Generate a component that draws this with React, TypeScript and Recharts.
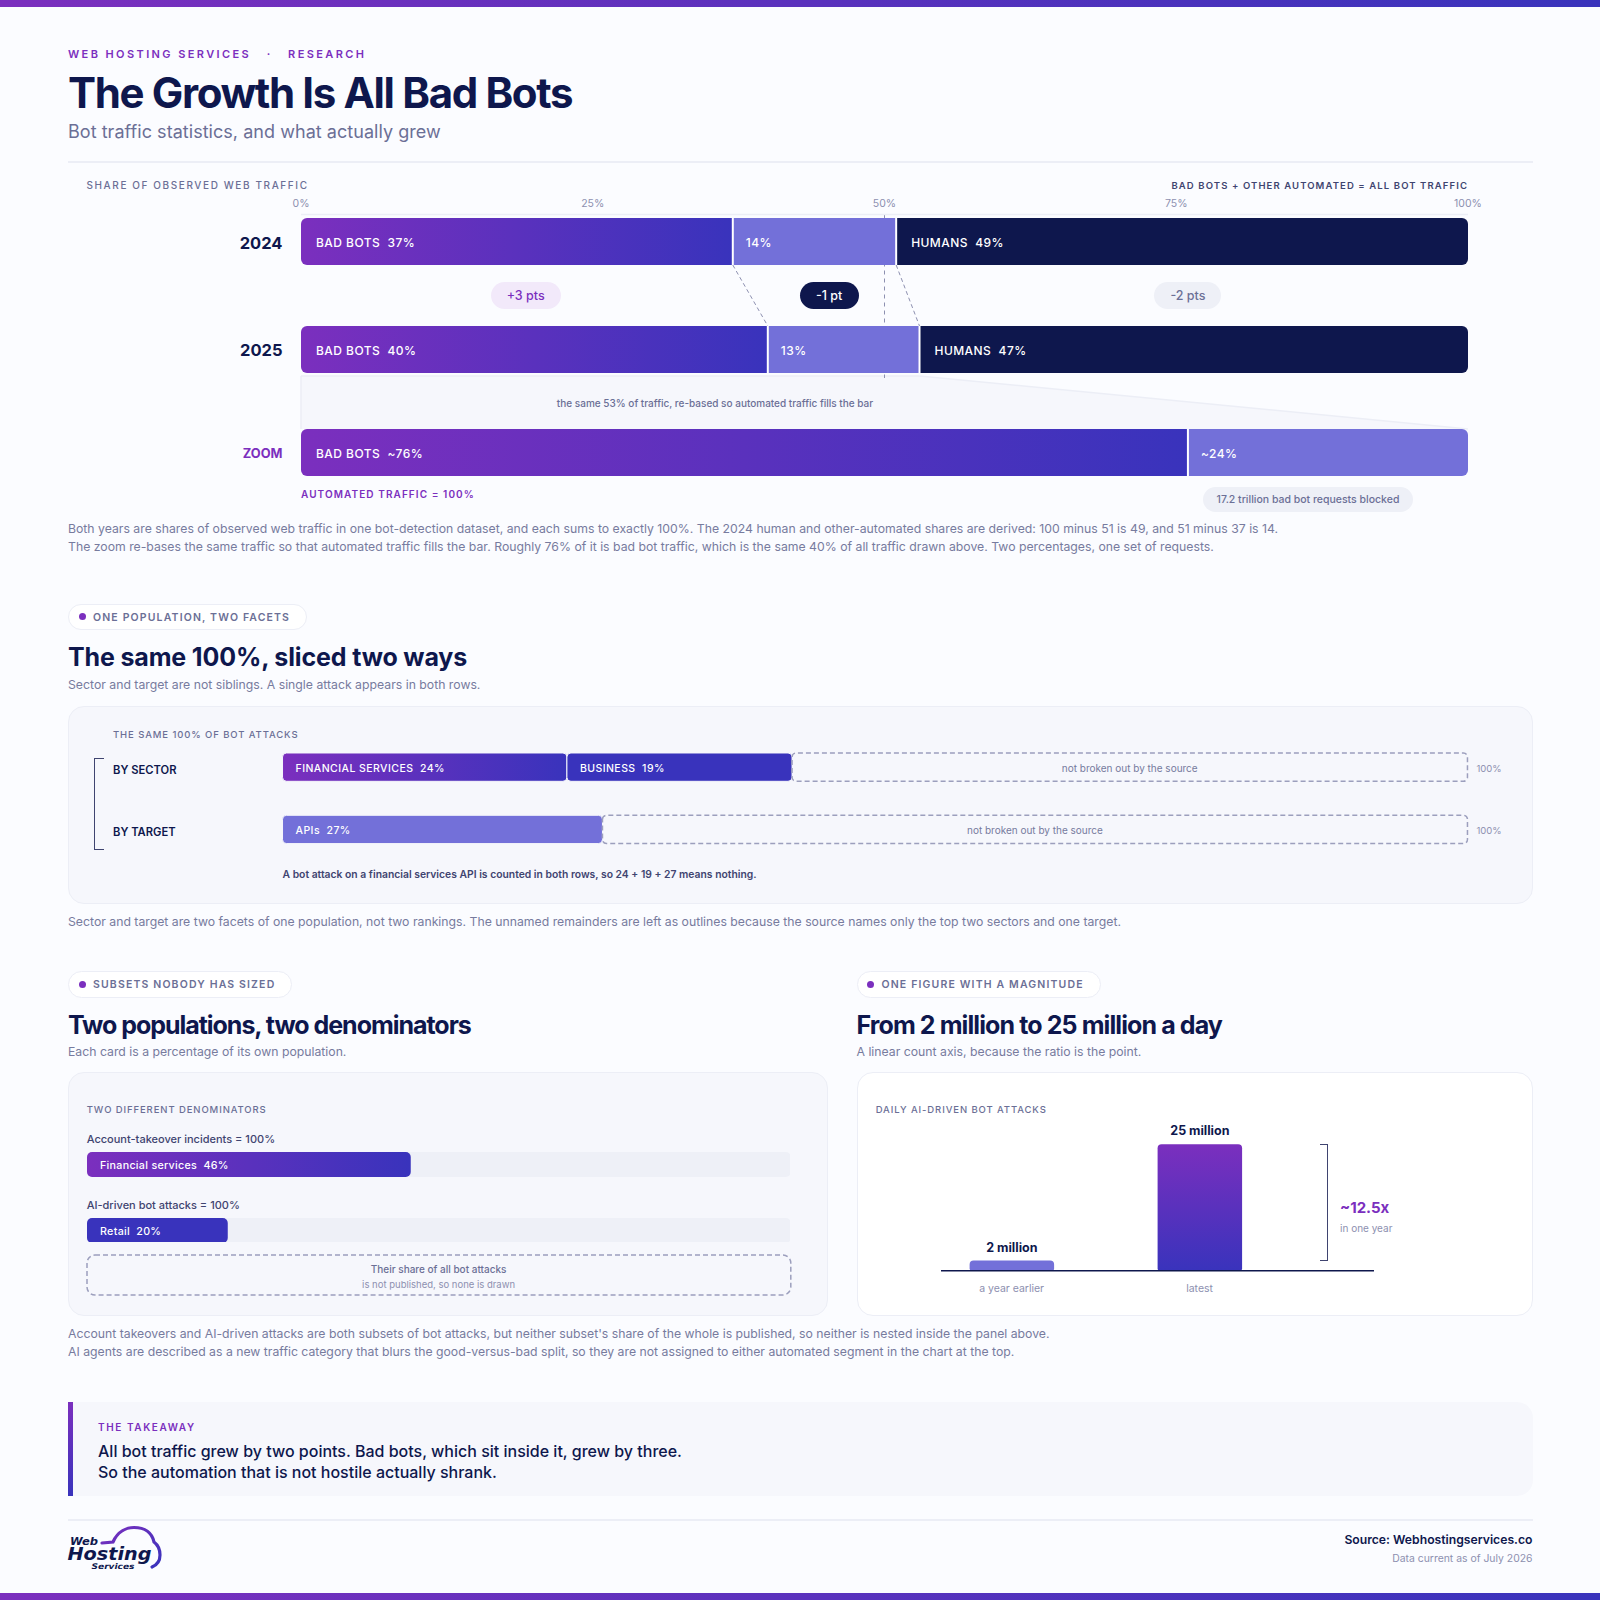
import React from "react";
import {
  Area,
  Bar,
  BarChart,
  Cell,
  ComposedChart,
  LabelList,
  ReferenceLine,
  XAxis,
  YAxis,
} from "recharts";

// top chart, share of observed web traffic
const years = ["2024", "2025"];
const badBots = [37, 40];
const otherAutomated = [14, 13];
const humans = [49, 47];
const axisTicks = [0, 25, 50, 75, 100];
const zoomBad = 76;
const zoomOther = 24;
const changes = ["+3 pts", "-1 pt", "-2 pts"];

// facets panel
const facets = ["BY SECTOR", "BY TARGET"];
const financial = [24, undefined];
const business = [19, undefined];
const apis = [undefined, 27];
const unnamed = [57, 73];

// denominators panel
const takeoverFinancial = 46;
const aiRetail = 20;

// daily attacks, in millions
const attackPeriods = ["a year earlier", "latest"];
const attackCounts = [2, 25];
const attackLabels = ["2 million", "25 million"];

const PURPLE = "#7B2FBE";
const BLUE = "#3933BC";
const PERI = "#7370D9";
const NAVY = "#0E174D";
const INK = "#3F4470";
const MUTED = "#6B6F96";
const BODY = "#777B9E";
const FAINT = "#8D90B0";
const LINE = "#ECEEF6";
const PANEL = "#F6F7FC";
const CHIP = "#EEF0F7";
const PAGE = "#FBFCFF";
const DASH = "#9C9FBD";

const BAR_L = 301;
const BAR_W = 1167;
const xOf = (v: number) => BAR_L + (v / 100) * BAR_W;

// vertical edges of the three rows, on the overlay chart's y axis
const rowTop = [218, 326, 429];
const rowBottom = [265, 372, 476];
const funnelTop = 376;
const axisY = 214.5;

const gradH = (
  <defs>
    <linearGradient id="gradH" x1="0" y1="0" x2="1" y2="0">
      <stop offset="0%" stopColor={PURPLE} />
      <stop offset="100%" stopColor={BLUE} />
    </linearGradient>
  </defs>
);
const gradV = (
  <defs>
    <linearGradient id="gradV" x1="0" y1="0" x2="0" y2="1">
      <stop offset="0%" stopColor={PURPLE} />
      <stop offset="100%" stopColor={BLUE} />
    </linearGradient>
  </defs>
);

function T({ x, y, right, cx, size, weight = 400, color, ls = 0, children }: any) {
  const style: any = {
    position: "absolute",
    top: y - size,
    lineHeight: `${size * 2}px`,
    fontSize: size,
    fontWeight: weight,
    color,
    letterSpacing: ls,
    whiteSpace: "pre",
  };
  if (x !== undefined) style.left = x;
  if (right !== undefined) style.right = 1600 - right;
  if (cx !== undefined) {
    style.left = cx;
    style.transform = "translateX(-50%)";
  }
  return <div style={style}>{children}</div>;
}

function Box({ x, y, w, h, style }: any) {
  return (
    <div style={{ position: "absolute", left: x, top: y, width: w, height: h, boxSizing: "border-box", ...style }} />
  );
}

function Pill({ cx, top, w, h, bg, color, size = 12.5, weight = 500, children }: any) {
  return (
    <div
      style={{
        position: "absolute",
        left: cx - w / 2,
        top,
        width: w,
        height: h,
        borderRadius: h / 2,
        background: bg,
        color,
        fontSize: size,
        fontWeight: weight,
        lineHeight: `${h}px`,
        textAlign: "center",
        whiteSpace: "pre",
      }}
    >
      {children}
    </div>
  );
}

function SectionPill({ x, top, w, children }: any) {
  return (
    <div
      style={{
        position: "absolute",
        left: x,
        top,
        width: w,
        height: 26.5,
        boxSizing: "border-box",
        borderRadius: 14,
        background: "#fff",
        border: `1.5px solid ${LINE}`,
      }}
    >
      <div style={{ position: "absolute", left: 9.5, top: 8.5, width: 7, height: 7, borderRadius: 4, background: PURPLE }} />
      <div
        style={{
          position: "absolute",
          left: 24,
          top: 1,
          lineHeight: "24.5px",
          fontSize: 10.5,
          fontWeight: 600,
          letterSpacing: 1.15,
          color: MUTED,
          whiteSpace: "pre",
        }}
      >
        {children}
      </div>
    </div>
  );
}

// text inside a bar, left aligned with an inset
const insideLabel = (text: (v: number) => string, opts: any = {}) => (p: any) => {
  const { x, y, height } = p.viewBox;
  if (p.value === undefined || p.value === null) return null;
  return (
    <text
      x={x + (opts.inset ?? 15)}
      y={y + height / 2 + (opts.nudge ?? 1.5)}
      dy="0.36em"
      fill="#fff"
      fontSize={opts.size ?? 12}
      fontWeight={opts.weight ?? 500}
      letterSpacing={opts.ls ?? 0.45}
      style={{ whiteSpace: "pre" }}
    >
      {text(p.value)}
    </text>
  );
};

function TrafficRow({ top, bad, other, human, approx }: any) {
  const row = [{ bad, other, human }];
  const pre = approx ? "~" : "";
  return (
    <div style={{ position: "absolute", left: BAR_L, top }}>
      <BarChart
        width={BAR_W}
        height={47}
        data={row}
        layout="vertical"
        margin={{ top: 0, right: 0, bottom: 0, left: 0 }}
        barCategoryGap={0}
      >
        {gradH}
        <XAxis type="number" domain={[0, 100]} hide />
        <YAxis type="category" hide />
        <Bar dataKey="bad" stackId="a" fill="url(#gradH)" radius={[6, 0, 0, 6]} isAnimationActive={false}>
          <LabelList dataKey="bad" content={insideLabel((v) => `BAD BOTS  ${pre}${v}%`)} />
        </Bar>
        <Bar dataKey="other" stackId="a" fill={PERI} radius={human ? 0 : [0, 6, 6, 0]} isAnimationActive={false}>
          <LabelList dataKey="other" content={insideLabel((v) => `${pre}${v}%`, { inset: 13 })} />
        </Bar>
        {human ? (
          <Bar dataKey="human" stackId="a" fill={NAVY} radius={[0, 6, 6, 0]} isAnimationActive={false}>
            <LabelList dataKey="human" content={insideLabel((v) => `HUMANS  ${v}%`)} />
          </Bar>
        ) : null}
        <ReferenceLine x={bad} stroke="#fff" strokeWidth={2} />
        {human ? <ReferenceLine x={bad + other} stroke="#fff" strokeWidth={2} /> : null}
      </BarChart>
    </div>
  );
}

// axis, connectors and the funnel that sit behind the bars
function TrafficOverlay() {
  const automated = badBots[1] + otherAutomated[1];
  const funnel = [
    { x: 0, band: [funnelTop, rowTop[2]] },
    { x: automated, band: [funnelTop, rowTop[2]] },
    { x: 100, band: [rowTop[2], rowTop[2]] },
  ];
  return (
    <div style={{ position: "absolute", left: BAR_L - 40, top: 190 }}>
      <ComposedChart
        width={BAR_W + 80}
        height={290}
        data={funnel}
        margin={{ top: 0, right: 40, bottom: 4, left: 40 }}
      >
        <XAxis
          dataKey="x"
          type="number"
          orientation="top"
          height={24.5}
          domain={[0, 100]}
          ticks={axisTicks}
          tickFormatter={(v) => `${v}%`}
          tick={{ fill: FAINT, fontSize: 10.5 }}
          tickLine={false}
          tickMargin={2}
          interval={0}
          axisLine={{ stroke: LINE, strokeWidth: 1.5 }}
        />
        <YAxis type="number" hide reversed domain={[axisY, rowBottom[2]]} />
        <Area dataKey="band" type="linear" fill={PANEL} fillOpacity={1} stroke="none" isAnimationActive={false} />
        <ReferenceLine segment={[{ x: 0, y: funnelTop }, { x: automated, y: funnelTop }]} stroke={LINE} strokeWidth={1.5} />
        <ReferenceLine segment={[{ x: 0, y: funnelTop }, { x: 0, y: rowTop[2] }]} stroke={LINE} strokeWidth={1.5} />
        <ReferenceLine segment={[{ x: automated, y: funnelTop }, { x: 100, y: rowTop[2] }]} stroke={LINE} strokeWidth={1.5} />
        <ReferenceLine segment={[{ x: 50, y: axisY }, { x: 50, y: funnelTop + 2 }]} stroke={FAINT} strokeWidth={1} strokeDasharray="4 4" />
        <ReferenceLine
          segment={[{ x: badBots[0], y: rowBottom[0] }, { x: badBots[1], y: rowTop[1] }]}
          stroke={FAINT}
          strokeWidth={1}
          strokeDasharray="4 3"
        />
        <ReferenceLine
          segment={[
            { x: badBots[0] + otherAutomated[0], y: rowBottom[0] },
            { x: badBots[1] + otherAutomated[1], y: rowTop[1] },
          ]}
          stroke={FAINT}
          strokeWidth={1}
          strokeDasharray="4 3"
        />
      </ComposedChart>
    </div>
  );
}

const restLabel = (p: any) => {
  const { x, y, width, height } = p.viewBox;
  if (!p.value) return null;
  return (
    <g>
      <text x={x + width / 2} y={y + height / 2 + 1} dy="0.36em" textAnchor="middle" fill={BODY} fontSize={10}>
        not broken out by the source
      </text>
      <text x={x + width + 9} y={y + height / 2 + 1} dy="0.36em" fill={FAINT} fontSize={9.5}>
        100%
      </text>
    </g>
  );
};

function FacetChart() {
  const rows = facets.map((facet, i) => ({
    facet,
    financial: financial[i],
    business: business[i],
    apis: apis[i],
    unnamed: unnamed[i],
  }));
  const common = { stackId: "a", radius: 4, isAnimationActive: false, stroke: PANEL, strokeWidth: 1 };
  const inner = { size: 10.5, inset: 13, ls: 0.45, nudge: 1 };
  return (
    <div style={{ position: "absolute", left: 113, top: 735.7 }}>
      <BarChart
        width={1419}
        height={124.6}
        data={rows}
        layout="vertical"
        margin={{ top: 0, right: 64.5, bottom: 0, left: 0 }}
        barSize={28.3}
      >
        {gradH}
        <XAxis type="number" domain={[0, 100]} hide />
        <YAxis
          type="category"
          dataKey="facet"
          width={169.5}
          axisLine={false}
          tickLine={false}
          tick={(p: any) => (
            <text x={0} y={p.y + 2.5} dy="0.36em" fill={NAVY} fontSize={11.2} fontWeight={600}>
              {p.payload.value}
            </text>
          )}
        />
        <Bar dataKey="financial" {...common} fill="url(#gradH)">
          <LabelList dataKey="financial" content={insideLabel((v) => `FINANCIAL SERVICES  ${v}%`, inner)} />
        </Bar>
        <Bar dataKey="business" {...common} fill={BLUE}>
          <LabelList dataKey="business" content={insideLabel((v) => `BUSINESS  ${v}%`, inner)} />
        </Bar>
        <Bar dataKey="apis" {...common} fill={PERI}>
          <LabelList dataKey="apis" content={insideLabel((v) => `APIs  ${v}%`, inner)} />
        </Bar>
        <Bar
          dataKey="unnamed"
          stackId="a"
          radius={4}
          fill="none"
          stroke={DASH}
          strokeWidth={1.5}
          strokeDasharray="5 3"
          isAnimationActive={false}
        >
          <LabelList dataKey="unnamed" content={restLabel} />
        </Bar>
      </BarChart>
    </div>
  );
}

function ShareBar({ top, value, label, fill }: any) {
  return (
    <div style={{ position: "absolute", left: 86.7, top }}>
      <BarChart
        width={703.8}
        height={24.5}
        data={[{ value }]}
        layout="vertical"
        margin={{ top: 0, right: 0, bottom: 0, left: 0 }}
        barCategoryGap={0}
      >
        {gradH}
        <XAxis type="number" domain={[0, 100]} hide />
        <YAxis type="category" hide />
        <Bar dataKey="value" fill={fill} radius={5} background={{ fill: CHIP, radius: 5 } as any} isAnimationActive={false}>
          <LabelList dataKey="value" content={insideLabel((v) => `${label}  ${v}%`, { size: 10.7, inset: 13, ls: 0.3, nudge: 1 })} />
        </Bar>
      </BarChart>
    </div>
  );
}

function AttackChart() {
  const rows = attackPeriods.map((period, i) => ({ period, count: attackCounts[i], label: attackLabels[i] }));
  return (
    <div style={{ position: "absolute", left: 941, top: 1110 }}>
      <BarChart
        width={433}
        height={190.7}
        data={rows}
        margin={{ top: 34.3, right: 0, bottom: 0, left: 0 }}
        barSize={84.5}
      >
        {gradV}
        <XAxis
          dataKey="period"
          height={30}
          padding={{ left: -23.4, right: 80.4 }}
          interval={0}
          tick={{ fill: FAINT, fontSize: 10.5 }}
          tickLine={false}
          tickMargin={8}
          axisLine={{ stroke: NAVY, strokeWidth: 1.5 }}
        />
        <YAxis type="number" hide domain={[0, 25]} />
        <Bar dataKey="count" radius={[4, 4, 2, 2]} isAnimationActive={false}>
          {rows.map((r, i) => (
            <Cell key={r.period} fill={i === 0 ? PERI : "url(#gradV)"} />
          ))}
          <LabelList
            dataKey="count"
            content={(p: any) => {
              const { x, y, width } = p.viewBox;
              return (
                <text x={x + width / 2} y={y - 13.5} dy="0.36em" textAnchor="middle" fill={NAVY} fontSize={12.5} fontWeight={700}>
                  {rows[p.index].label}
                </text>
              );
            }}
          />
        </Bar>
      </BarChart>
    </div>
  );
}

function Logo() {
  const face = { fontFamily: "DejaVu Sans", fontStyle: "oblique", fontWeight: 700, fill: NAVY, lengthAdjust: "spacingAndGlyphs" };
  return (
    <svg width={120} height={60} viewBox="60 1520 120 60" style={{ position: "absolute", left: 60, top: 1520 }}>
      <defs>
        <linearGradient id="logoG" x1="0" y1="0" x2="1" y2="1">
          <stop offset="0%" stopColor={PURPLE} />
          <stop offset="100%" stopColor={BLUE} />
        </linearGradient>
      </defs>
      <path
        d="M102 1543 L113 1542 C118 1531 127 1527.5 134 1527.5 C145 1527.5 152 1533 154 1542 C158 1545 160 1550 160 1555 C160 1561 157 1565 152 1567"
        fill="none"
        stroke="url(#logoG)"
        strokeWidth={3.2}
        strokeLinecap="round"
      />
      <text x={70} y={1545} fontSize={11} textLength={28} {...face}>
        Web
      </text>
      <text x={67.5} y={1560} fontSize={17} textLength={84} {...face}>
        Hosting
      </text>
      <text x={91.5} y={1568.5} fontSize={7.8} textLength={43} {...face}>
        Services
      </text>
    </svg>
  );
}

export default function App() {
  const pillY = 282;
  const mids = [
    (badBots[0] + badBots[1]) / 4,
    (badBots[0] + badBots[1] + badBots[0] + otherAutomated[0] + badBots[1] + otherAutomated[1]) / 4,
    (badBots[0] + otherAutomated[0] + badBots[1] + otherAutomated[1] + 200) / 4,
  ];
  return (
    <div
      style={{
        position: "absolute",
        left: 0,
        top: 0,
        width: 1600,
        height: 1600,
        overflow: "hidden",
        background: PAGE,
        fontFamily: "Inter, sans-serif",
      }}
    >
      <Box x={0} y={0} w={1600} h={6.6} style={{ background: `linear-gradient(90deg, ${PURPLE}, ${BLUE})` }} />
      <Box x={0} y={1593.4} w={1600} h={6.6} style={{ background: `linear-gradient(90deg, ${PURPLE}, ${BLUE})` }} />

      <T x={68} y={54} size={11} weight={600} color={PURPLE} ls={2.4}>{"WEB HOSTING SERVICES   ·   RESEARCH"}</T>
      <T x={68} y={92.5} size={42} weight={700} color={NAVY} ls={-1.35}>The Growth Is All Bad Bots</T>
      <T x={68} y={131.5} size={18} color={MUTED} ls={0.04}>Bot traffic statistics, and what actually grew</T>
      <Box x={68} y={161} w={1464.5} h={1.5} style={{ background: LINE }} />

      <T x={86.5} y={185} size={10} weight={500} color={MUTED} ls={1.6}>SHARE OF OBSERVED WEB TRAFFIC</T>
      <T right={1468} y={185} size={9.5} weight={600} color={INK} ls={1.1}>BAD BOTS + OTHER AUTOMATED = ALL BOT TRAFFIC</T>

      <TrafficOverlay />
      <TrafficRow top={rowTop[0]} bad={badBots[0]} other={otherAutomated[0]} human={humans[0]} />
      <TrafficRow top={rowTop[1]} bad={badBots[1]} other={otherAutomated[1]} human={humans[1]} />
      <TrafficRow top={rowTop[2]} bad={zoomBad} other={zoomOther} approx />

      <T right={282.5} y={243} size={16.5} weight={700} color={NAVY}>{years[0]}</T>
      <T right={282.5} y={350} size={16.5} weight={700} color={NAVY}>{years[1]}</T>
      <T right={282.5} y={454} size={12.8} weight={700} color={PURPLE}>ZOOM</T>

      <Pill cx={xOf(mids[0])} top={pillY} w={70} h={27} bg="#F2E9FA" color={PURPLE}>{changes[0]}</Pill>
      <Pill cx={xOf(mids[1])} top={pillY} w={59} h={27} bg={NAVY} color="#fff">{changes[1]}</Pill>
      <Pill cx={xOf(mids[2])} top={pillY} w={67} h={27} bg={CHIP} color={MUTED}>{changes[2]}</Pill>

      <T cx={715} y={403} size={10} weight={500} color={MUTED}>the same 53% of traffic, re-based so automated traffic fills the bar</T>
      <T x={301} y={493.5} size={10} weight={600} color={PURPLE} ls={1.08}>AUTOMATED TRAFFIC = 100%</T>
      <Pill cx={1308} top={487} w={210} h={25} bg={CHIP} color={MUTED} size={10.5}>17.2 trillion bad bot requests blocked</Pill>

      <T x={68} y={529.2} size={12.25} color={BODY}>Both years are shares of observed web traffic in one bot-detection dataset, and each sums to exactly 100%. The 2024 human and other-automated shares are derived: 100 minus 51 is 49, and 51 minus 37 is 14.</T>
      <T x={68} y={547} size={12.25} color={BODY}>The zoom re-bases the same traffic so that automated traffic fills the bar. Roughly 76% of it is bad bot traffic, which is the same 40% of all traffic drawn above. Two percentages, one set of requests.</T>

      <SectionPill x={68} top={603.5} w={239}>ONE POPULATION, TWO FACETS</SectionPill>
      <T x={68} y={656.5} size={25} weight={700} color={NAVY} ls={-0.15}>The same 100%, sliced two ways</T>
      <T x={68} y={685} size={12.25} color={BODY}>Sector and target are not siblings. A single attack appears in both rows.</T>

      <Box x={68} y={705.5} w={1464.5} h={198.5} style={{ background: PANEL, border: `1.5px solid ${LINE}`, borderRadius: 16 }} />
      <T x={113} y={734.5} size={9.5} weight={500} color={MUTED} ls={0.9}>THE SAME 100% OF BOT ATTACKS</T>
      <Box x={93.5} y={758} w={10.5} h={91.5} style={{ borderLeft: `1.5px solid ${INK}`, borderTop: `1.5px solid ${INK}`, borderBottom: `1.5px solid ${INK}` }} />
      <FacetChart />
      <T x={282.5} y={874.5} size={10.35} weight={600} color={INK}>A bot attack on a financial services API is counted in both rows, so 24 + 19 + 27 means nothing.</T>
      <T x={68} y={922.4} size={12.25} color={BODY}>Sector and target are two facets of one population, not two rankings. The unnamed remainders are left as outlines because the source names only the top two sectors and one target.</T>

      <SectionPill x={68} top={971} w={224}>SUBSETS NOBODY HAS SIZED</SectionPill>
      <T x={68} y={1025} size={25} weight={700} color={NAVY} ls={-1.03}>Two populations, two denominators</T>
      <T x={68} y={1052} size={12.25} color={BODY}>Each card is a percentage of its own population.</T>

      <Box x={68} y={1072} w={760} h={244} style={{ background: PANEL, border: `1.5px solid ${LINE}`, borderRadius: 16 }} />
      <T x={86.7} y={1138.7} size={11} weight={500} color={INK}>Account-takeover incidents = 100%</T>
      <T x={86.7} y={1109} size={9.5} weight={500} color={MUTED} ls={0.9}>TWO DIFFERENT DENOMINATORS</T>
      <ShareBar top={1152} value={takeoverFinancial} label="Financial services" fill="url(#gradH)" />
      <T x={86.7} y={1204.7} size={11} weight={500} color={INK}>AI-driven bot attacks = 100%</T>
      <ShareBar top={1217.8} value={aiRetail} label="Retail" fill={BLUE} />
      <svg width={706} height={42} style={{ position: "absolute", left: 85.7, top: 1254.3 }}>
        <rect x={1} y={1} width={703.8} height={40} rx={8} fill="none" stroke={DASH} strokeWidth={1.5} strokeDasharray="5 3" />
      </svg>
      <T cx={438.6} y={1269} size={10} weight={500} color={MUTED}>Their share of all bot attacks</T>
      <T cx={438.6} y={1284.3} size={9.5} color={FAINT}>is not published, so none is drawn</T>

      <SectionPill x={856.5} top={971} w={244}>ONE FIGURE WITH A MAGNITUDE</SectionPill>
      <T x={856.5} y={1025} size={25} weight={700} color={NAVY} ls={-0.9}>From 2 million to 25 million a day</T>
      <T x={856.5} y={1052} size={12.25} color={BODY}>A linear count axis, because the ratio is the point.</T>

      <Box x={856.5} y={1072} w={676} h={244} style={{ background: "#fff", border: `1.5px solid ${LINE}`, borderRadius: 16 }} />
      <T x={875.7} y={1109} size={9.5} weight={500} color={MUTED} ls={0.9}>DAILY AI-DRIVEN BOT ATTACKS</T>
      <AttackChart />
      <Box x={1319.5} y={1144} w={8.5} h={117} style={{ borderRight: `1.5px solid ${INK}`, borderTop: `1.5px solid ${INK}`, borderBottom: `1.5px solid ${INK}` }} />
      <T x={1340} y={1207.5} size={15} weight={700} color={PURPLE}>~12.5x</T>
      <T x={1340} y={1227.7} size={10} color={FAINT}>in one year</T>

      <T x={68} y={1334} size={12.25} color={BODY}>Account takeovers and AI-driven attacks are both subsets of bot attacks, but neither subset's share of the whole is published, so neither is nested inside the panel above.</T>
      <T x={68} y={1352} size={12.25} color={BODY}>AI agents are described as a new traffic category that blurs the good-versus-bad split, so they are not assigned to either automated segment in the chart at the top.</T>

      <Box x={68} y={1402} w={1464.5} h={94} style={{ background: PANEL, borderRadius: "4px 16px 16px 4px" }} />
      <Box x={68} y={1402} w={4.5} h={94} style={{ background: `linear-gradient(180deg, ${PURPLE}, ${BLUE})` }} />
      <T x={98} y={1426.5} size={10} weight={600} color={PURPLE} ls={1.6}>THE TAKEAWAY</T>
      <T x={98} y={1451} size={16} weight={500} color={NAVY}>All bot traffic grew by two points. Bad bots, which sit inside it, grew by three.</T>
      <T x={98} y={1472} size={16} weight={500} color={NAVY}>So the automation that is not hostile actually shrank.</T>

      <Box x={68} y={1519} w={1464.5} h={1.5} style={{ background: LINE }} />
      <Logo />
      <T right={1532.5} y={1540.3} size={12.2} weight={600} color={NAVY}>Source: Webhostingservices.co</T>
      <T right={1532.5} y={1559.3} size={10.4} color={FAINT}>Data current as of July 2026</T>
    </div>
  );
}
